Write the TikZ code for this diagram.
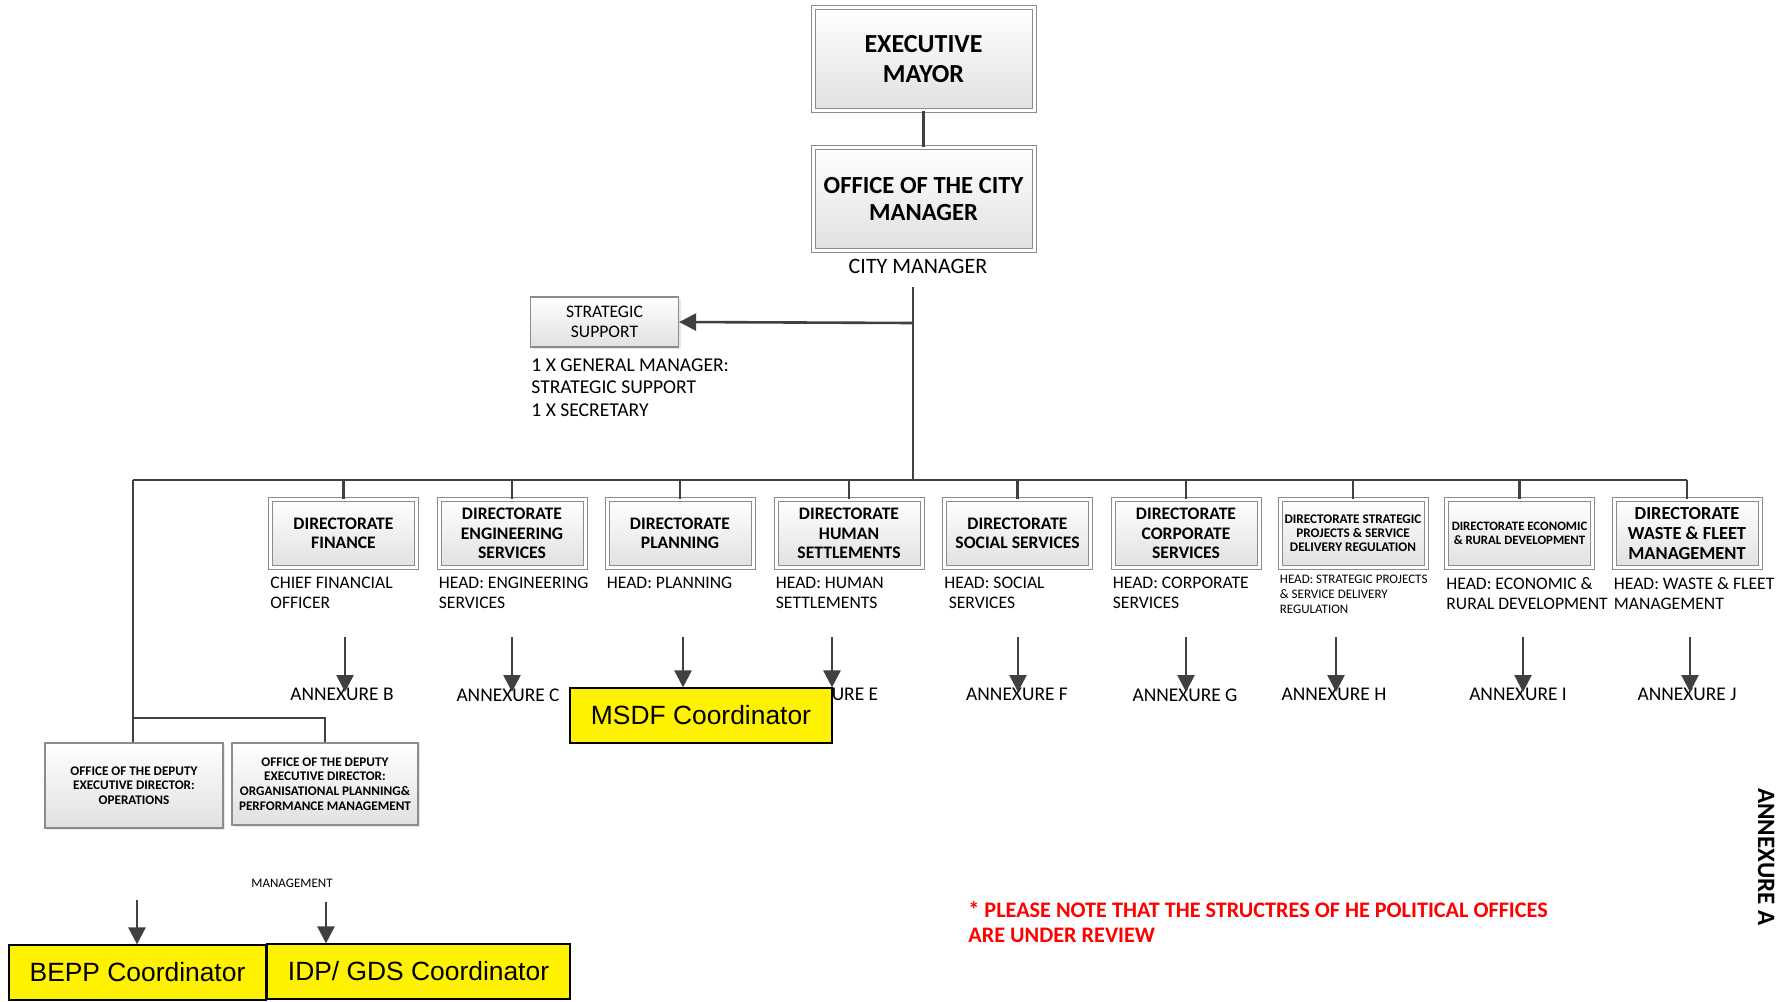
\documentclass[tikz,border=0pt]{standalone}
\usepackage{fontspec}
\setmainfont{Carlito}
\newfontfamily\arialfont{Liberation Sans}
\usetikzlibrary{arrows.meta,positioning,shadows}

\begin{document}
\begin{tikzpicture}[x=0.5pt,y=-0.5pt,
    conn/.style={draw=black!75, line width=1.3pt},
    arr/.style={conn, -{Triangle[length=8.5pt,width=8.5pt]}},
    shade/.style={top color=white, bottom color=black!12,
        drop shadow={shadow xshift=1pt,shadow yshift=-1pt,opacity=0.2}},
    dbox/.style={shade, draw=black!45, double=white, double distance=1.5pt,
        line width=0.5pt, align=center, inner sep=1pt},
    sbox/.style={shade, draw=black!45, line width=0.6pt, align=center, inner sep=1pt},
    dirbox/.style={dbox, minimum width=73pt, minimum height=34pt,
        font=\fontsize{8.8}{9.7}\selectfont\bfseries},
    ybox/.style={draw=black, line width=0.6pt, fill=yellow, minimum height=27.5pt,
        font=\arialfont\fontsize{13.2}{15}\selectfont},
    headlbl/.style={inner sep=0pt, align=left, font=\fontsize{8.8}{10}\selectfont},
    annlbl/.style={anchor=north, inner sep=0pt, font=\fontsize{9.7}{11}\selectfont}]

    \useasboundingbox (0,0) rectangle (1787,1001);

    \node[dbox, minimum width=110.5pt, minimum height=51.5pt,
        font=\fontsize{13}{15}\selectfont\bfseries] (mayor) at (923.5,59) {EXECUTIVE\\MAYOR};
    \node[dbox, minimum width=110.5pt, minimum height=51.5pt,
        font=\fontsize{12.3}{13.5}\selectfont\bfseries] (cmoffice) at (923.5,199) {OFFICE OF THE CITY\\MANAGER};
    \node[inner sep=0pt, font=\fontsize{11}{13}\selectfont] (cmlbl) at (918,266) {CITY MANAGER};

    \coordinate (cmtop) at (913,287);
    \coordinate (stratjn) at (913,323);
    \coordinate (cmbus) at (913,480);
    \coordinate (busl) at (133,480);
    \coordinate (busr) at (1687,480);
    \coordinate (depjn) at (133,718);

    \node[sbox, minimum width=74pt, minimum height=25pt,
        font=\fontsize{8.8}{10}\selectfont] (strat) at (604.5,322) {STRATEGIC\\SUPPORT};
    \node[headlbl, anchor=north west, font=\fontsize{9.8}{11.3}\selectfont] (stratlbl) at (531,358)
        {1 X GENERAL MANAGER:\\STRATEGIC SUPPORT\\1 X SECRETARY};

    \node[dirbox] (dfin) at (343.5,533.5) {DIRECTORATE\\FINANCE};
    \node[dirbox] (deng) at (512,533.5) {DIRECTORATE\\ENGINEERING\\SERVICES};
    \node[dirbox] (dplan) at (680,533.5) {DIRECTORATE\\PLANNING};
    \node[dirbox] (dhum) at (849,533.5) {DIRECTORATE\\HUMAN\\SETTLEMENTS};
    \node[dirbox] (dsoc) at (1017.5,533.5) {DIRECTORATE\\SOCIAL SERVICES};
    \node[dirbox] (dcorp) at (1186,533.5) {DIRECTORATE\\CORPORATE\\SERVICES};
    \node[dirbox, inner sep=0pt, font=\fontsize{6.6}{7}\selectfont\bfseries] (dspro) at (1353,533.5)
        {DIRECTORATE STRATEGIC\\PROJECTS \& SERVICE\\DELIVERY REGULATION};
    \node[dirbox, inner sep=0pt, font=\fontsize{6.4}{7}\selectfont\bfseries] (deco) at (1519.5,533.5)
        {DIRECTORATE ECONOMIC\\\& RURAL DEVELOPMENT};
    \node[dirbox, font=\fontsize{9.2}{9.9}\selectfont\bfseries] (dwaste) at (1687,533.5)
        {DIRECTORATE\\WASTE \& FLEET\\MANAGEMENT};

    \node[headlbl, below right=4.5pt and 0pt of dfin.south west] (hfin) {CHIEF FINANCIAL\\OFFICER};
    \node[headlbl, below right=4.5pt and 0pt of deng.south west] (heng) {HEAD: ENGINEERING\\SERVICES};
    \node[headlbl, below right=4.5pt and 0pt of dplan.south west] (hplan) {HEAD: PLANNING};
    \node[headlbl, below right=4.5pt and 0pt of dhum.south west] (hhum) {HEAD: HUMAN\\SETTLEMENTS};
    \node[headlbl, below right=4.5pt and 0pt of dsoc.south west] (hsoc) {HEAD: SOCIAL\\\hspace*{0.25em}SERVICES};
    \node[headlbl, below right=4.5pt and 0pt of dcorp.south west] (hcorp) {HEAD: CORPORATE\\SERVICES};
    \node[headlbl, below right=3.5pt and 0pt of dspro.south west, font=\fontsize{6.5}{7.5}\selectfont] (hspro)
        {HEAD: STRATEGIC PROJECTS\\\& SERVICE DELIVERY\\REGULATION};
    \node[headlbl, below right=4.5pt and 0pt of deco.south west] (heco) {HEAD: ECONOMIC \&\\RURAL DEVELOPMENT};
    \node[headlbl, below right=4.5pt and 0pt of dwaste.south west] (hwaste) {HEAD: WASTE \& FLEET\\MANAGEMENT};

    \node[annlbl] (annb) at (342,688) {ANNEXURE B};
    \node[annlbl] (annc) at (508,688) {ANNEXURE C};
    \node[annlbl] (anne) at (827,688) {ANNEXURE E};
    \node[annlbl] (annf) at (1017,688) {ANNEXURE F};
    \node[annlbl] (anng) at (1185,688) {ANNEXURE G};
    \node[annlbl] (annh) at (1334,688) {ANNEXURE H};
    \node[annlbl] (anni) at (1518,688) {ANNEXURE I};
    \node[annlbl] (annj) at (1687,688) {ANNEXURE J};

    \node[ybox, minimum width=131pt] (msdf) at (701,715.5) {MSDF Coordinator};

    \coordinate (ab) at (345,637);
    \coordinate (ac) at (512,637);
    \coordinate (ad) at (683,637);
    \coordinate (ae) at (832,637);
    \coordinate (af) at (1018,637);
    \coordinate (ag) at (1186,637);
    \coordinate (ah) at (1336,637);
    \coordinate (ai) at (1523,637);
    \coordinate (aj) at (1690,637);

    \node[sbox, minimum width=89pt, minimum height=42.5pt,
        font=\fontsize{6.6}{7.3}\selectfont\bfseries] (depops) at (134,785.5)
        {OFFICE OF THE DEPUTY\\EXECUTIVE DIRECTOR:\\OPERATIONS};
    \node[sbox, minimum width=93pt, minimum height=41pt,
        font=\fontsize{6.6}{7.3}\selectfont\bfseries] (depopm) at (325,784)
        {OFFICE OF THE DEPUTY\\EXECUTIVE DIRECTOR:\\ORGANISATIONAL PLANNING\&\\PERFORMANCE MANAGEMENT};
    \node[inner sep=0pt, font=\fontsize{6.5}{7}\selectfont] (mgmt) at (292,883) {MANAGEMENT};

    \node[ybox, minimum width=128.5pt] (bepp) at (137.5,972.5) {BEPP Coordinator};
    \node[ybox, minimum width=151.5pt] (idp) at (418.5,971.5) {IDP/ GDS Coordinator};
    \coordinate (bb) at (137,900);
    \coordinate (bi) at (326,902);

    \node[anchor=north west, inner sep=0pt, align=left, text=red,
        font=\fontsize{11.1}{12.4}\selectfont\bfseries] (note) at (968,901)
        {* PLEASE NOTE THAT THE STRUCTRES OF HE POLITICAL OFFICES\\ARE UNDER REVIEW};
    \node[rotate=-90, inner sep=0pt, font=\fontsize{12.5}{14}\selectfont\bfseries] (anna) at (1766,857) {ANNEXURE A};

    \draw[conn] (mayor.south) -- (cmoffice.north);
    \draw[conn] (cmtop) -- (cmbus);
    \draw[arr] (stratjn) -- (strat.east);
    \draw[conn] (busl) -- (busr);
    \draw[conn] (dfin.north |- busl) -- (dfin.north);
    \draw[conn] (deng.north |- busl) -- (deng.north);
    \draw[conn] (dplan.north |- busl) -- (dplan.north);
    \draw[conn] (dhum.north |- busl) -- (dhum.north);
    \draw[conn] (dsoc.north |- busl) -- (dsoc.north);
    \draw[conn] (dcorp.north |- busl) -- (dcorp.north);
    \draw[conn] (dspro.north |- busl) -- (dspro.north);
    \draw[conn] (deco.north |- busl) -- (deco.north);
    \draw[conn] (dwaste.north |- busl) -- (dwaste.north);

    \draw[arr, shorten >=-2pt] (ab) -- (ab |- annb.north);
    \draw[arr, shorten >=-2pt] (ac) -- (ac |- annc.north);
    \draw[arr] (ad) -- (ad |- msdf.north);
    \draw[arr] (ae) -- (ae |- msdf.north);
    \draw[arr, shorten >=-2pt] (af) -- (af |- annf.north);
    \draw[arr, shorten >=-2pt] (ag) -- (ag |- anng.north);
    \draw[arr, shorten >=-2pt] (ah) -- (ah |- annh.north);
    \draw[arr, shorten >=-2pt] (ai) -- (ai |- anni.north);
    \draw[arr, shorten >=-2pt] (aj) -- (aj |- annj.north);

    \draw[conn] (busl) -- (depjn) -- (depjn |- depops.north);
    \draw[conn] (depjn) -| (depopm.north);
    \draw[arr] (bb) -- (bb |- bepp.north);
    \draw[arr] (bi) -- (bi |- idp.north);
\end{tikzpicture}
\end{document}
